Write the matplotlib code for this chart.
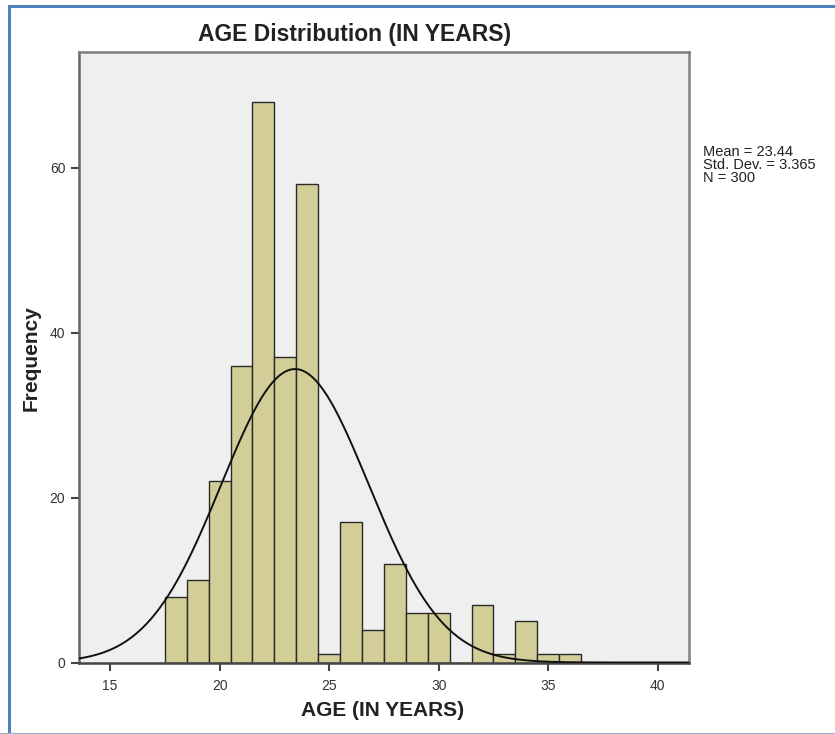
import numpy as np
from matplotlib import pyplot as plt
from matplotlib.patches import Rectangle

ages = [18, 19, 20, 21, 22, 23, 24, 25, 26, 27, 28, 29, 30, 31, 32, 33, 34, 35, 36]
counts = [8, 10, 22, 36, 68, 37, 58, 1, 17, 4, 12, 6, 6, 0, 7, 1, 5, 1, 1]
mean_age = 23.44
std_age = 3.365
n_total = 300
x_ticks = [15, 20, 25, 30, 35, 40]
y_ticks = [0, 20, 40, 60]

plt.rcParams['font.family'] = ['Liberation Sans', 'DejaVu Sans']

fig = plt.figure(figsize=(8.35, 7.34), dpi=100)
ax = fig.add_axes([78.5 / 835, 1 - 662.5 / 734, (688.5 - 78.5) / 835, (662.5 - 52) / 734])
ax.set_facecolor('#efefef')

ax.bar(ages, counts, width=1.0, color='#d3ce97', edgecolor='#2a2a2a', linewidth=1.0, zorder=2)

# normal curve scaled to counts (bin width 1)
xs = np.linspace(13.56, 41.4, 400)
ys = n_total / (std_age * np.sqrt(2 * np.pi)) * np.exp(-0.5 * ((xs - mean_age) / std_age) ** 2)
ax.plot(xs, ys, color='#111111', linewidth=1.4, zorder=3)

ax.set_xlim(13.56, 41.4)
ax.set_ylim(0, 74)
ax.set_xticks(x_ticks)
ax.set_yticks(y_ticks)
ax.tick_params(direction='out', length=6, width=1.5, color='#444444', labelsize=10, labelcolor='#333333')
ax.tick_params(axis='x', pad=6)
for s in ax.spines.values():
    s.set_color('#808080')
    s.set_linewidth(1.8)
ax.spines['bottom'].set_color('#444444')
ax.spines['left'].set_color('#666666')

fig.text(355 / 835, 1 - 35 / 734, 'AGE Distribution (IN YEARS)', ha='center', va='center',
         fontsize=16.5, fontweight='bold', color='#222222')
fig.text(383 / 835, 1 - 711 / 734, 'AGE (IN YEARS)', ha='center', va='center',
         fontsize=15, fontweight='bold', color='#222222')
fig.text(31 / 835, 1 - 358 / 734, 'Frequency', ha='center', va='center', rotation=90,
         fontsize=15, fontweight='bold', color='#222222')
fig.text(703 / 835, 1 - 145 / 734, 'Mean = 23.44\nStd. Dev. = 3.365\nN = 300', ha='left', va='top',
         fontsize=10.5, color='#222222', linespacing=0.92)

# blue frame around the picture
fig.patches.append(Rectangle((9 / 835, -0.01), 1.0, 1 - 6 / 734 + 0.01, transform=fig.transFigure,
                             fill=False, edgecolor='#4f81bd', linewidth=2.2))
fig.patches.append(Rectangle((0, 0.5 / 734), 1.0, 0, transform=fig.transFigure,
                             fill=False, edgecolor='#9ab0cc', linewidth=1.5))

fig.savefig('out.png', dpi=100)
